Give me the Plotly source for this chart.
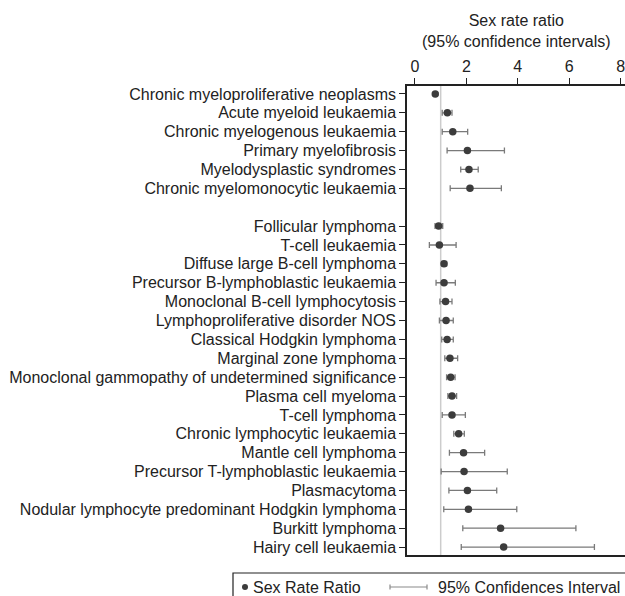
import plotly.graph_objects as go

myeloid = ["Chronic myeloproliferative neoplasms", "Acute myeloid leukaemia",
           "Chronic myelogenous leukaemia", "Primary myelofibrosis",
           "Myelodysplastic syndromes", "Chronic myelomonocytic leukaemia"]
myeloid_ratio = [0.79, 1.26, 1.47, 2.04, 2.10, 2.14]
myeloid_low = [0.75, 1.06, 1.06, 1.25, 1.78, 1.37]
myeloid_high = [0.83, 1.44, 2.05, 3.48, 2.46, 3.36]

lymphoid = ["Follicular lymphoma", "T-cell leukaemia", "Diffuse large B-cell lymphoma",
            "Precursor B-lymphoblastic leukaemia", "Monoclonal B-cell lymphocytosis",
            "Lymphoproliferative disorder NOS", "Classical Hodgkin lymphoma",
            "Marginal zone lymphoma", "Monoclonal gammopathy of undetermined significance",
            "Plasma cell myeloma", "T-cell lymphoma", "Chronic lymphocytic leukaemia",
            "Mantle cell lymphoma", "Precursor T-lymphoblastic leukaemia", "Plasmacytoma",
            "Nodular lymphocyte predominant Hodgkin lymphoma", "Burkitt lymphoma",
            "Hairy cell leukaemia"]
lymphoid_ratio = [0.92, 0.95, 1.13, 1.13, 1.19, 1.21, 1.25, 1.36, 1.39, 1.44, 1.44,
                  1.70, 1.89, 1.91, 2.04, 2.08, 3.33, 3.45]
lymphoid_low = [0.78, 0.56, 1.04, 0.82, 0.97, 0.95, 1.04, 1.16, 1.23, 1.28, 1.06,
                1.51, 1.34, 1.02, 1.32, 1.12, 1.86, 1.80]
lymphoid_high = [1.08, 1.60, 1.23, 1.57, 1.44, 1.49, 1.49, 1.66, 1.56, 1.62, 1.96,
                 1.92, 2.71, 3.59, 3.18, 3.96, 6.26, 6.98]

x_ticks = [0, 2, 4, 6, 8]
reference_value = 1
legend_labels = ["Sex Rate Ratio", "95% Confidences Interval"]

# build rows with a blank gap between groups
labels = myeloid + lymphoid
ratio = myeloid_ratio + lymphoid_ratio
low = myeloid_low + lymphoid_low
high = myeloid_high + lymphoid_high
ypos = list(range(len(myeloid))) + [len(myeloid) + 1 + i for i in range(len(lymphoid))]

W, H = 625, 596
L, R, T, B = 407, 0, 86, 41
pw, ph = W - L - R, H - T - B


def px(x):
    return (x - L) / pw


def py(y):
    return (H - B - y) / ph


font = dict(family="Liberation Sans, Arial, Helvetica, sans-serif", size=16, color="#222222")
dot_color = "#3c3c3c"
ci_color = "#7a7a7a"

fig = go.Figure()
fig.add_trace(go.Scatter(
    x=ratio, y=ypos, mode="markers",
    marker=dict(size=7.5, color=dot_color),
    error_x=dict(type="data", symmetric=False,
                 array=[h - r for h, r in zip(high, ratio)],
                 arrayminus=[r - l for r, l in zip(ratio, low)],
                 color=ci_color, thickness=1.3, width=3),
    showlegend=False, hoverinfo="skip"))

fig.add_shape(type="line", xref="x", yref="paper", x0=reference_value, x1=reference_value,
              y0=0, y1=1, line=dict(color="#cccccc", width=1.5), layer="below")

fig.add_annotation(text="Sex rate ratio<br>(95% confidence intervals)",
                   xref="paper", yref="paper", x=0.5, y=1.118,
                   xanchor="center", yanchor="middle", showarrow=False, font=font)

# manual legend box below the plot
ly = 587
fig.add_shape(type="rect", xref="paper", yref="paper", x0=px(233), x1=px(640),
              y0=py(573), y1=py(610), line=dict(color="#222222", width=1.2))
fig.add_shape(type="circle", xref="paper", yref="paper", x0=px(242), x1=px(248),
              y0=py(ly + 3), y1=py(ly - 3), line=dict(width=0), fillcolor=dot_color)
fig.add_annotation(text=legend_labels[0], xref="paper", yref="paper", x=px(251), y=py(ly),
                   xanchor="left", yanchor="middle", showarrow=False, font=font)
fig.add_shape(type="line", xref="paper", yref="paper", x0=px(390), x1=px(427),
              y0=py(ly), y1=py(ly), line=dict(color="#8a8a8a", width=1.2))
for cx in (390, 427):
    fig.add_shape(type="line", xref="paper", yref="paper", x0=px(cx), x1=px(cx),
                  y0=py(ly - 2.5), y1=py(ly + 2.5), line=dict(color="#8a8a8a", width=1.2))
fig.add_annotation(text=legend_labels[1], xref="paper", yref="paper", x=px(436), y=py(ly),
                   xanchor="left", yanchor="middle", showarrow=False, font=font)

fig.update_layout(
    width=W, height=H,
    margin=dict(l=L, r=R, t=T, b=B, autoexpand=False),
    paper_bgcolor="white", plot_bgcolor="white",
    font=font,
    showlegend=False,
    xaxis=dict(side="top", range=[-0.31, 8.17], tickvals=x_ticks, ticks="outside",
               ticklen=6, tickcolor="#222222", tickwidth=1.3, showgrid=False, zeroline=False,
               showline=True, linecolor="#222222", linewidth=1.5, mirror=True,
               ticklabeloverflow="allow"),
    yaxis=dict(range=[24.42, -0.42], tickvals=ypos, ticktext=labels, ticks="outside",
               ticklen=6, tickcolor="#222222", tickwidth=1.3, showgrid=False, zeroline=False,
               showline=True, linecolor="#222222", linewidth=1.5, mirror=False),
)

fig.write_html("out.html")
